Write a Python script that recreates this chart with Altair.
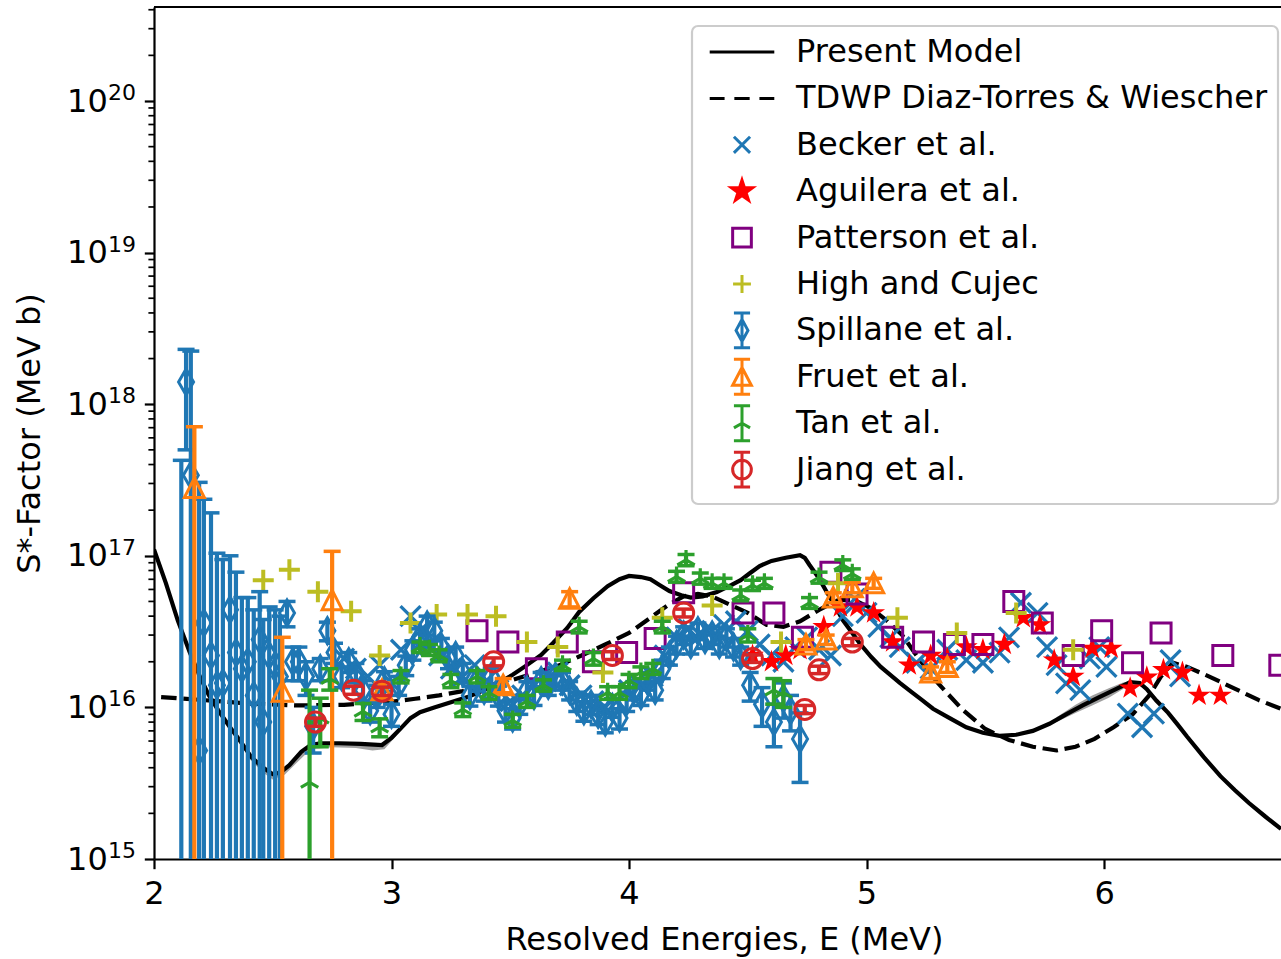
import altair as alt
import pandas as pd

FONT = "DejaVu Sans"
FS = 32
W, H = 1127, 852
X_DOMAIN = [2.0, 6.745]
Y_DOMAIN = [1e15, 4.17e20]
UNIT = 1e16  # all S values below are given in units of 1e16 MeV b

# ---------------- data ----------------
model_E = [2.00, 2.05, 2.10, 2.15, 2.19, 2.23, 2.27, 2.32, 2.36, 2.41, 2.46, 2.50, 2.53, 2.57,
           2.62, 2.66, 2.70, 2.78, 2.87, 2.96, 3.00, 3.04, 3.08, 3.12, 3.18, 3.25, 3.32, 3.39,
           3.45, 3.51, 3.57, 3.63, 3.68, 3.74, 3.79, 3.85, 3.91, 3.96, 4.00, 4.05, 4.09, 4.13,
           4.17, 4.22, 4.26, 4.31, 4.37, 4.43, 4.47, 4.51, 4.55, 4.60, 4.66, 4.72, 4.74, 4.76,
           4.80, 4.83, 4.87, 4.90, 4.94, 4.97, 5.02, 5.06, 5.10, 5.14, 5.19, 5.23, 5.28, 5.35,
           5.42, 5.49, 5.56, 5.63, 5.70, 5.77, 5.84, 5.91, 5.98, 6.05, 6.11, 6.15, 6.18, 6.22,
           6.27, 6.31, 6.35, 6.42, 6.49, 6.55, 6.61, 6.68, 6.745]
model_S = [11.0, 6.6, 3.75, 2.32, 1.64, 1.21, 0.96, 0.74, 0.61, 0.47, 0.40, 0.363, 0.37, 0.416,
           0.51, 0.565, 0.58, 0.58, 0.575, 0.565, 0.63, 0.73, 0.85, 0.93, 1.0, 1.08, 1.17, 1.30,
           1.45, 1.64, 1.9, 2.22, 2.66, 3.34, 4.26, 5.25, 6.3, 7.0, 7.36, 7.24, 7.0, 6.4,
           5.86, 5.5, 5.3, 5.4, 5.77, 6.4, 6.9, 7.7, 8.57, 9.25, 9.7, 10.1, 9.7, 8.7,
           7.1, 5.86, 4.6, 3.77, 3.1, 2.66, 2.15, 1.85, 1.64, 1.45, 1.26, 1.13, 0.98, 0.85,
           0.74, 0.68, 0.65, 0.66, 0.70, 0.78, 0.90, 1.03, 1.17, 1.32, 1.47, 1.45, 1.32, 1.11,
           0.92, 0.77, 0.64, 0.47, 0.352, 0.285, 0.234, 0.19, 0.158]

band_seg = ["a"] * 11 + ["b"] * 6
band_E = [2.40, 2.46, 2.50, 2.55, 2.60, 2.66, 2.75, 2.85, 2.92, 2.97, 3.02,
          5.80, 5.88, 5.95, 6.02, 6.08, 6.12]
band_lo = [0.46, 0.37, 0.335, 0.36, 0.43, 0.53, 0.545, 0.54, 0.52, 0.53, 0.65,
           0.80, 0.92, 1.03, 1.16, 1.32, 1.45]
band_hi = [0.50, 0.41, 0.37, 0.40, 0.48, 0.575, 0.59, 0.585, 0.58, 0.58, 0.69,
           0.86, 1.04, 1.20, 1.34, 1.46, 1.49]

tdwp_E = [2.03, 2.2, 2.4, 2.6, 2.8, 3.0, 3.1, 3.2, 3.3, 3.4, 3.5, 3.6, 3.7, 3.8, 3.9, 4.0,
          4.08, 4.17, 4.23, 4.29, 4.35, 4.42, 4.5, 4.58, 4.65, 4.72, 4.80, 4.88, 4.95, 5.02,
          5.08, 5.15, 5.22, 5.30, 5.40, 5.50, 5.60, 5.70, 5.80, 5.88, 5.96, 6.04, 6.12, 6.19,
          6.24, 6.29, 6.35, 6.45, 6.55, 6.65, 6.745]
tdwp_S = [1.17, 1.12, 1.06, 1.03, 1.04, 1.09, 1.14, 1.2, 1.28, 1.38, 1.5, 1.68, 1.88, 2.2,
          2.6, 3.1, 3.8, 4.8, 5.4, 5.6, 5.4, 4.8, 4.2, 3.5, 3.4, 3.7, 4.4, 5.1, 5.1, 4.5,
          3.8, 3.0, 2.1, 1.45, 0.98, 0.72, 0.61, 0.55, 0.52, 0.55, 0.62, 0.74, 0.9, 1.2,
          1.6, 1.97, 1.85, 1.58, 1.33, 1.12, 0.98]

becker_E = [2.80, 2.85, 2.90, 2.95, 3.00, 3.04, 3.08, 3.12, 3.16, 3.20, 3.25, 3.30, 3.35, 3.40,
            3.45, 3.50, 3.55, 3.60, 3.65, 3.70, 3.75, 3.80, 3.85, 3.90, 3.95, 4.00, 4.05, 4.10,
            4.15, 4.20, 4.25, 4.30, 4.35, 4.40, 4.45, 4.50, 4.55, 4.60, 4.65, 4.70, 4.75, 4.80,
            4.85, 4.90, 4.95, 5.00, 5.05, 5.10, 5.14, 5.21, 5.27, 5.34, 5.42, 5.49, 5.56, 5.60,
            5.65, 5.72, 5.76, 5.80, 5.84, 5.90, 5.94, 5.98, 6.01, 6.10, 6.16, 6.21, 6.28, 6.32]
becker_S = [2.1, 1.8, 1.6, 1.9, 1.45, 2.4, 4.0, 3.2, 2.6, 2.2, 1.8, 1.6, 1.9, 1.5,
            1.3, 1.1, 1.2, 1.4, 1.5, 1.7, 1.4, 1.2, 1.1, 1.0, 1.1, 1.3, 1.4, 1.6,
            2.2, 2.9, 3.3, 3.0, 3.2, 3.5, 3.7, 3.2, 2.6, 2.2, 2.0, 2.5, 2.9, 2.4,
            2.2, 4.0, 5.2, 4.2, 3.4, 2.9, 2.5, 1.97, 1.8, 2.4, 2.05, 1.97, 2.3, 2.9,
            4.9, 4.2, 2.5, 1.9, 1.44, 1.3, 2.1, 2.5, 1.85, 0.91, 0.74, 0.91, 2.05, 1.6]

aguilera_E = [4.52, 4.60, 4.66, 4.72, 4.82, 4.89, 4.96, 5.03, 5.11, 5.18, 5.27, 5.34, 5.42, 5.49,
              5.58, 5.66, 5.73, 5.79, 5.87, 5.95, 6.03, 6.11, 6.18, 6.25, 6.33, 6.40, 6.49]
aguilera_S = [2.2, 2.0, 2.2, 2.4, 3.4, 4.6, 4.6, 4.2, 2.7, 1.9, 2.2, 2.1, 2.5, 2.4,
              2.6, 3.9, 3.5, 2.05, 1.6, 2.45, 2.45, 1.34, 1.58, 1.77, 1.7, 1.2, 1.2]

patterson_E = [3.36, 3.49, 3.61, 3.74, 3.85, 3.99, 4.11, 4.23, 4.48, 4.61, 4.73, 4.85, 4.96,
               5.11, 5.24, 5.37, 5.49, 5.62, 5.74, 5.87, 5.99, 6.12, 6.24, 6.50, 6.74]
patterson_S = [3.2, 2.7, 1.8, 2.7, 2.0, 2.3, 2.85, 5.7, 4.2, 4.2, 2.9, 7.8, 5.6,
               2.9, 2.7, 2.6, 2.6, 5.0, 3.6, 2.2, 3.2, 1.97, 3.1, 2.2, 1.9]

high_E = [2.46, 2.57, 2.69, 2.83, 2.95, 3.08, 3.19, 3.32, 3.44, 3.57, 3.70, 3.89, 4.14, 4.35,
          4.64, 4.88, 5.13, 5.38, 5.63, 5.87]
high_S = [6.9, 8.1, 5.8, 4.3, 2.2, 3.6, 4.1, 4.1, 4.0, 2.7, 2.5, 1.7, 3.9, 4.7,
          2.7, 6.6, 3.9, 3.1, 4.2, 2.4]

spillane_E = [2.115, 2.135, 2.155, 2.19, 2.21, 2.24, 2.265, 2.29, 2.32, 2.345,
              2.37, 2.395, 2.42, 2.445, 2.46, 2.485, 2.51, 2.53, 2.56, 2.585,
              2.61, 2.64, 2.67, 2.70, 2.73, 2.76, 2.79, 2.82, 2.85, 2.88,
              2.91, 2.94, 2.97, 3.00, 3.03, 3.06, 3.09, 3.12, 3.15, 3.18,
              3.21, 3.24, 3.27, 3.30, 3.33, 3.36, 3.39, 3.42, 3.45, 3.48,
              3.51, 3.54, 3.57, 3.60, 3.63, 3.66, 3.69, 3.72, 3.75, 3.78,
              3.81, 3.84, 3.87, 3.90, 3.93, 3.96, 3.99, 4.02, 4.05, 4.08,
              4.11, 4.14, 4.17, 4.20, 4.23, 4.26, 4.29, 4.32, 4.35, 4.38,
              4.41, 4.44, 4.47, 4.51, 4.56, 4.61, 4.65, 4.68, 4.72]
spillane_S = [0.04, 140, 34, 0.52, 3.6, 2.2, 1.4, 1.45, 4.4, 2.3,
              1.8, 2.0, 1.2, 2.8, 0.8, 2.2, 1.9, 1.6, 4.2, 2.0,
              2.0, 1.6, 0.75, 1.8, 3.2, 2.3, 1.6, 2.0, 1.7, 1.3,
              0.95, 1.2, 1.5, 0.9, 1.4, 1.9, 2.4, 2.9, 3.5, 3.2,
              2.5, 2.1, 2.2, 1.7, 1.2, 1.5, 1.3, 1.6, 1.2, 0.95,
              0.85, 1.05, 1.3, 1.2, 1.5, 1.4, 1.6, 1.5, 1.3, 1.1,
              0.95, 1.05, 0.9, 0.8, 1.0, 0.85, 1.1, 1.3, 1.2, 1.5,
              1.3, 1.8, 2.2, 2.6, 3.0, 2.6, 3.2, 2.8, 3.0, 2.6,
              2.9, 2.5, 2.2, 1.4, 1.05, 0.8, 1.15, 0.95, 0.62]
spillane_err = [42.6, 90, 190, 30, 20, 17, 9, 8, 5.6, 5.5,
                3.5, 3.3, 3.2, 3.0, 3.0, 2.4, 2.5, 2.4, 0.8, 0.5,
                0.5, 0.4, 0.25, 0.3, 0.45, 0.35, 0.25, 0.3, 0.25, 0.2,
                0.15, 0.2, 0.22, 0.15, 0.2, 0.28, 0.35, 0.4, 0.5, 0.45,
                0.35, 0.3, 0.3, 0.25, 0.18, 0.22, 0.2, 0.22, 0.18, 0.15,
                0.13, 0.15, 0.18, 0.17, 0.2, 0.2, 0.22, 0.2, 0.18, 0.16,
                0.14, 0.15, 0.13, 0.12, 0.14, 0.13, 0.16, 0.18, 0.17, 0.2,
                0.18, 0.25, 0.3, 0.35, 0.4, 0.35, 0.4, 0.35, 0.4, 0.35,
                0.4, 0.35, 0.3, 0.3, 0.3, 0.25, 0.3, 0.25, 0.3]

fruet_E = [2.17, 2.54, 2.75, 2.96, 3.47, 3.75, 4.745, 4.83, 4.86, 4.94, 5.03, 5.27, 5.34]
fruet_S = [28, 1.27, 5.1, 1.3, 1.4, 5.2, 2.6, 2.8, 5.3, 6.2, 6.6, 1.7, 1.85]
fruet_err = [43, 1.63, 5.6, 0.15, 0.15, 0.6, 0.2, 0.2, 0.4, 0.5, 0.5, 0.15, 0.15]

tan_E = [2.655, 2.70, 2.74, 2.88, 2.95, 3.04, 3.12, 3.16, 3.20, 3.25,
         3.30, 3.36, 3.41, 3.51, 3.57, 3.64, 3.72, 3.79, 3.85, 3.91,
         3.96, 4.00, 4.05, 4.10, 4.14, 4.20, 4.24, 4.30, 4.35, 4.40,
         4.47, 4.50, 4.52, 4.57, 4.61, 4.65, 4.76, 4.80, 4.90, 4.94]
tan_S = [0.32, 0.85, 1.55, 0.94, 0.74, 1.6, 2.5, 2.4, 2.2, 1.5,
         0.97, 1.6, 1.25, 0.82, 1.1, 1.4, 1.9, 3.4, 2.1, 1.25,
         1.25, 1.5, 1.7, 1.8, 3.4, 7.3, 9.4, 7.1, 6.6, 6.6,
         5.5, 3.0, 6.4, 6.6, 1.3, 1.25, 4.9, 7.2, 8.7, 7.6]
tan_err = [0.98, 0.3, 0.25, 0.12, 0.1, 0.15, 0.2, 0.2, 0.2, 0.15,
           0.1, 0.15, 0.12, 0.08, 0.1, 0.12, 0.15, 0.3, 0.2, 0.12,
           0.12, 0.15, 0.15, 0.15, 0.3, 0.6, 0.8, 0.6, 0.5, 0.5,
           0.45, 0.3, 0.5, 0.5, 0.25, 0.25, 0.4, 0.6, 0.7, 0.6]

jiang_E = [2.68, 2.84, 2.96, 3.43, 3.93, 4.23, 4.52, 4.74, 4.80, 4.94]
jiang_S = [0.8, 1.3, 1.28, 2.0, 2.2, 4.2, 2.1, 0.97, 1.77, 2.7]
jiang_err = [0.05, 0.08, 0.08, 0.12, 0.13, 0.25, 0.12, 0.06, 0.1, 0.15]

legend_names = ["Present Model", "TDWP Diaz-Torres & Wiescher", "Becker et al.",
                "Aguilera et al.", "Patterson et al.", "High and Cujec", "Spillane et al.",
                "Fruet et al.", "Tan et al.", "Jiang et al."]
legend_strokes = ["black", "black", "#1f77b4", "red", "#800080", "#bcbd22", "#1f77b4",
                  "#ff7f0e", "#2ca02c", "#d62728"]

y_tick_values = [1e15, 1e16, 1e17, 1e18, 1e19, 1e20]
y_tick_base = "10"
y_tick_exponents = ["15", "16", "17", "18", "19", "20"]
x_tick_values = [2, 3, 4, 5, 6]

# ---------------- marker shapes (SVG paths, unit box) ----------------
def star_path(r):
    pts = [(0, -1), (0.2245, -0.309), (0.951, -0.309), (0.363, 0.118), (0.588, 0.809),
           (0, 0.382), (-0.588, 0.809), (-0.363, 0.118), (-0.951, -0.309), (-0.2245, -0.309)]
    return "M" + "L".join(f"{x * r:.3f},{y * r:.3f}" for x, y in pts) + "Z"

X_PATH = "M-1,-1L1,1M-1,1L1,-1"
SQUARE = "M-1,-1H1V1H-1Z"
PLUS = "M-1,0H1M0,-1V1"
DIAMOND = "M0,-1.3L0.75,0L0,1.3L-0.75,0Z"
TRIANGLE = "M0,-1L1,0.95H-1Z"
TRI_UP = "M0,0V-1M0,0L-0.87,0.5M0,0L0.87,0.5"
CAP = "M-1,0H1"

# legend symbols: same invisible extent for every entry so rows are evenly spaced
EXTENT = "M-3.9,-2.05M3.9,2.05"
BAR = "M0,-2.05V2.05M-0.95,-2.05H0.95M-0.95,2.05H0.95"
legend_paths = [
    "M-3.8,0H3.8",
    "M-3.8,0H-2.05M-0.9,0H0.9M2.05,0H3.8",
    "M-0.95,-0.95L0.95,0.95M-0.95,0.95L0.95,-0.95",
    "".join(star_path(r) for r in (1.3, 1.05, 0.8, 0.55, 0.3, 0.08)),
    "M-1.1,-1.1H1.1V1.1H-1.1Z",
    "M-1.05,0H1.05M0,-1.05V1.05",
    BAR + "M0,-1.3L0.7,0L0,1.3L-0.7,0Z",
    BAR + "M0,-1.1L1.1,1.0H-1.1Z",
    BAR + "M0,0V-1.1M0,0L-0.95,0.55M0,0L0.95,0.55",
    BAR + "M-1.1,0A1.1,1.1 0 1,0 1.1,0A1.1,1.1 0 1,0 -1.1,0",
]
legend_paths = [EXTENT + p for p in legend_paths]

# ---------------- helpers ----------------
def pts(E, S):
    return pd.DataFrame({"E": E, "S": [s * UNIT for s in S]})

def errs(E, S, err):
    lo = [(s - e) * UNIT if s - e > 0 else 1e13 for s, e in zip(S, err)]
    hi = [(s + e) * UNIT for s, e in zip(S, err)]
    return pd.DataFrame({"E": E, "lo": lo, "hi": hi})

def caps(E, S, err):
    d = errs(E, S, err)
    return pd.DataFrame({"E": list(d["E"]) * 2, "S": list(d["lo"]) + list(d["hi"])})

x_scale = alt.Scale(domain=X_DOMAIN, nice=False, zero=False)
y_scale = alt.Scale(type="log", domain=Y_DOMAIN, nice=False)

common_axis = dict(labelFont=FONT, labelFontSize=FS, labelColor="black", titleFont=FONT,
                   titleFontSize=FS, titleFontWeight="normal", titleColor="black",
                   tickColor="black", tickWidth=2.2, tickSize=9.7, domainColor="black",
                   domainWidth=2.2, grid=False, labelFlush=False, labelOverlap=False)
x_axis = alt.Axis(values=x_tick_values, format="d", title="Resolved Energies, E (MeV)",
                  labelPadding=10, titlePadding=15, titleX=570, **common_axis)
y_axis = alt.Axis(values=y_tick_values, labelExpr=f"'{y_tick_base}'", title="S*-Factor (MeV b)",
                  labelPadding=37, titlePadding=20, **common_axis)

def X():
    return alt.X("E:Q", scale=x_scale, axis=x_axis)

def Y(field="S"):
    return alt.Y(f"{field}:Q", scale=y_scale, axis=y_axis)

def scatter(df, shape, color, size, filled=False, sw=2.8):
    return alt.Chart(df).mark_point(shape=shape, size=size, filled=filled, color=color,
                                    strokeWidth=sw, opacity=1, clip=True).encode(x=X(), y=Y())

def errorbar(E, S, err, color, shape, size, sw=2.8, filled=False):
    rule = alt.Chart(errs(E, S, err)).mark_rule(color=color, strokeWidth=4.2, clip=True).encode(
        x=X(), y=Y("lo"), y2="hi:Q")
    cap = alt.Chart(caps(E, S, err)).mark_point(shape=CAP, size=289, color=color, strokeWidth=3.5,
                                                 filled=False, opacity=1, clip=True).encode(x=X(), y=Y())
    mark = scatter(pts(E, S), shape, color, size, filled, sw)
    return [rule, cap, mark]

# ---------------- layers ----------------
band_df = pd.DataFrame({"E": band_E, "lo": [v * UNIT for v in band_lo],
                        "hi": [v * UNIT for v in band_hi], "seg": band_seg})
band = alt.Chart(band_df).mark_area(color="gray", opacity=0.75, clip=True).encode(
    x=X(), y=Y("lo"), y2="hi:Q", detail="seg:N")
model = alt.Chart(pts(model_E, model_S)).mark_line(color="black", strokeWidth=4.2, clip=True).encode(
    x=X(), y=Y())
tdwp = alt.Chart(pts(tdwp_E, tdwp_S)).mark_line(color="black", strokeWidth=4.2,
                                                  strokeDash=[15.5, 6.7], clip=True).encode(x=X(), y=Y())

layers = [band, model, tdwp,
          scatter(pts(becker_E, becker_S), X_PATH, "#1f77b4", 400, sw=3.3),
          scatter(pts(aguilera_E, aguilera_S), star_path(1), "red", 576, filled=True, sw=0.5),
          scatter(pts(patterson_E, patterson_S), SQUARE, "#800080", 400, sw=3),
          scatter(pts(high_E, high_S), PLUS, "#bcbd22", 441, sw=4)]
layers += errorbar(spillane_E, spillane_S, spillane_err, "#1f77b4", DIAMOND, 400, sw=3)
layers += errorbar(fruet_E, fruet_S, fruet_err, "#ff7f0e", TRIANGLE, 400, sw=3)
layers += errorbar(tan_E, tan_S, tan_err, "#2ca02c", TRI_UP, 400, sw=3.2)
layers += errorbar(jiang_E, jiang_S, jiang_err, "#d62728", "circle", 400, sw=3)

# minor ticks on the log axis, the exponents of the tick labels and the top spine
minor_vals = [m * 10 ** d for d in range(15, 21) for m in range(2, 10) if m * 10 ** d < Y_DOMAIN[1]]
minor = alt.Chart(pd.DataFrame({"S": minor_vals})).mark_rule(color="black", strokeWidth=1.7).encode(
    y=Y(), x=alt.value(-5.6), x2=alt.value(0))
exp_df = pd.DataFrame({"S": y_tick_values, "exp": y_tick_exponents})
exponents = alt.Chart(exp_df).mark_text(font=FONT, fontSize=22, align="left", baseline="middle",
                                        dy=-8, color="black").encode(
    y=Y(), x=alt.value(-46), text="exp:N")
top_spine = alt.Chart(pd.DataFrame({"k": [0]})).mark_rule(color="black", strokeWidth=2.2).encode(
    y=alt.value(0), x=alt.value(0), x2=alt.value(W))

leg = alt.Legend(title=None, orient="none", legendX=538, legendY=19, labelFont=FONT,
                 labelFontSize=FS, labelColor="black", labelLimit=800, symbolSize=289,
                 symbolStrokeWidth=3, symbolOffset=24, labelOffset=38, rowPadding=-1.6,
                 padding=10, strokeColor="#cccccc", fillColor="rgba(255,255,255,0.8)",
                 cornerRadius=6)
legend_layer = alt.Chart(pd.DataFrame({"series": legend_names})).mark_point(
    opacity=0, filled=False).encode(
    x=alt.value(0), y=alt.value(0),
    shape=alt.Shape("series:N", scale=alt.Scale(domain=legend_names, range=legend_paths), legend=leg),
    stroke=alt.Stroke("series:N", scale=alt.Scale(domain=legend_names, range=legend_strokes), legend=leg),
)

layers += [minor, exponents, top_spine, legend_layer]

chart = alt.layer(*layers).properties(
    width=W, height=H,
    autosize=alt.AutoSizeParams(type="none"),
    padding={"left": 154, "top": 7, "right": 0, "bottom": 100},
).configure_view(stroke=None).configure_legend(strokeWidth=2.2)

chart.save("out.html", embed_options={"renderer": "svg", "actions": False})
